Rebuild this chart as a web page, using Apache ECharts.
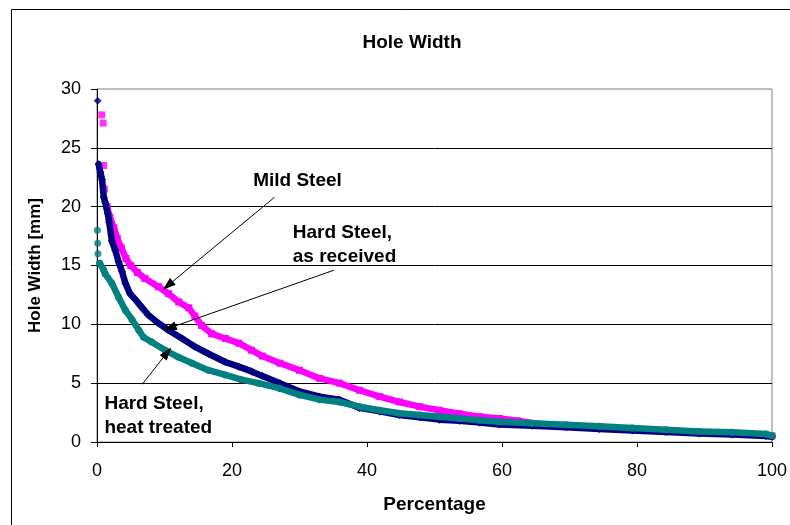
<!DOCTYPE html>
<html><head><meta charset="utf-8">
<script src="https://cdn.jsdelivr.net/npm/echarts@6/dist/echarts.min.js"></script>
<style>html,body{margin:0;padding:0;background:#fff}#c{width:790px;height:525px}</style>
</head><body><div id="c"></div>
<script>
// ---- data ----
const xTicks = [0, 20, 40, 60, 80, 100];
const yTicks = [0, 5, 10, 15, 20, 25, 30];

const mildOutX = [0.7, 0.9, 1.0, 1.1];
const mildOutY = [27.8, 27.1, 23.5, 21.5];
const mildX = [1.5, 1.9, 2.5, 3.0, 3.6, 4.3, 5.0, 6.0, 7.1, 9.1, 10.6, 12.1, 13.6, 14.5, 15.5, 17, 19, 21, 22.9, 24.5, 27.1, 30, 33, 35.9, 38.9, 41.9, 44.8, 47.8, 50.7, 53.7, 56.7, 59.6, 62.3, 66, 70, 75, 80, 85, 90, 95, 100];
const mildY = [20.0, 19.1, 18.2, 17.3, 16.5, 15.6, 15.0, 14.4, 13.9, 13.2, 12.6, 11.9, 11.4, 10.7, 9.9, 9.2, 8.8, 8.4, 7.8, 7.3, 6.7, 6.1, 5.4, 5.0, 4.4, 3.85, 3.4, 3.0, 2.7, 2.4, 2.15, 2.0, 1.8, 1.5, 1.38, 1.22, 1.08, 0.95, 0.82, 0.72, 0.52];

const hardOutX = [0.1];
const hardOutY = [29.0];
const hardX = [0.25, 0.5, 0.75, 1.0, 1.2, 1.6, 1.8, 2.2, 2.7, 3.2, 3.7, 4.2, 4.9, 5.7, 6.7, 7.6, 9.1, 10.6, 12.6, 14.5, 16.5, 19, 21, 22.9, 24.5, 27.1, 30, 33, 35.9, 38.9, 41.9, 44.8, 47.8, 50.7, 53.7, 56.7, 59.6, 64.5, 69.5, 74.4, 79.3, 84.3, 89.2, 94.1, 99.1, 100];
const hardY = [23.6, 22.9, 22.3, 20.8, 20.4, 19.4, 18.7, 17.1, 16.3, 15.3, 14.5, 13.5, 12.6, 12.1, 11.4, 10.8, 10.1, 9.5, 8.8, 8.1, 7.5, 6.8, 6.4, 6.0, 5.6, 5.0, 4.3, 3.85, 3.6, 2.9, 2.6, 2.3, 2.1, 1.9, 1.8, 1.65, 1.48, 1.38, 1.25, 1.1, 0.97, 0.84, 0.72, 0.64, 0.5, 0.45];

const heatOutX = [0.05, 0.1, 0.15];
const heatOutY = [18.0, 16.9, 16.0];
const heatX = [0.4, 1.0, 1.2, 2.2, 3.2, 4.2, 5.2, 6.2, 6.9, 8.1, 10.1, 12.1, 14.1, 16.5, 19, 21.4, 23.9, 27.1, 30, 33, 35.9, 38.9, 41.9, 44.8, 47.8, 50.7, 53.7, 56.7, 59.6, 64.5, 69.5, 74.4, 79.3, 84.3, 89.2, 94.1, 99.1, 100];
const heatY = [15.2, 14.6, 14.3, 13.5, 12.3, 11.2, 10.4, 9.5, 8.9, 8.5, 7.8, 7.2, 6.7, 6.1, 5.7, 5.3, 5.0, 4.55, 4.0, 3.6, 3.4, 3.0, 2.7, 2.45, 2.3, 2.15, 2.0, 1.85, 1.72, 1.6, 1.47, 1.33, 1.18, 1.04, 0.9, 0.82, 0.68, 0.54];

// annotation anchors in data coordinates
const labelMild = { text: 'Mild Steel', x: 29.7, y: 22.2 };
const labelHard = { text: 'Hard Steel,\nas received', x: 29.0, y: 16.8 };
const labelHeat = { text: 'Hard Steel,\nheat treated', x: 1.1, y: 2.2 };
const arrows = [
  [[26.3, 20.8], [10.5, 13.3]],
  [[35.1, 14.6], [10.8, 9.7]],
  [[6.7, 4.9], [10.4, 7.6]]
];

const zip = (xs, ys) => xs.map((x, i) => [x, ys[i]]);
const FONT = "'Liberation Sans', Arial, sans-serif";
const PINK = '#FF00FF', NAVY = '#000080', TEAL = '#008080';

const chart = echarts.init(document.getElementById('c'), null, { renderer: 'canvas' });

function bodySeries(name, data, color, symbol, size, z) {
  return {
    name, type: 'line', data, showSymbol: true, symbol, symbolSize: size,
    itemStyle: { color }, lineStyle: { color, width: 6.5, cap: 'round', join: 'round' },
    animation: false, silent: true, z
  };
}
function outSeries(name, data, color, symbol, size, z) {
  return {
    name, type: 'scatter', data, symbol, symbolSize: size,
    itemStyle: { color }, animation: false, silent: true, z
  };
}

chart.setOption({
  animation: false,
  backgroundColor: '#fff',
  title: {
    text: 'Hole Width', left: 407, top: 28, textAlign: 'center',
    textStyle: { fontFamily: FONT, fontSize: 19, fontWeight: 'bold', color: '#000' }
  },
  grid: { left: 97, right: 17, top: 89, bottom: 83, show: true, borderColor: '#808080', borderWidth: 1 },
  xAxis: {
    type: 'value', min: xTicks[0], max: xTicks[xTicks.length - 1], interval: xTicks[1] - xTicks[0],
    name: 'Percentage', nameLocation: 'middle', nameGap: 53,
    nameTextStyle: { fontFamily: FONT, fontSize: 19, fontWeight: 'bold', color: '#000' },
    axisLine: { show: true, lineStyle: { color: '#000', width: 1 } },
    axisTick: { show: true, inside: false, length: 5, lineStyle: { color: '#000' } },
    axisLabel: { fontFamily: FONT, fontSize: 18, color: '#000', margin: 20 },
    splitLine: { show: false }
  },
  yAxis: {
    type: 'value', min: yTicks[0], max: yTicks[yTicks.length - 1], interval: yTicks[1] - yTicks[0],
    name: 'Hole Width [mm]', nameLocation: 'middle', nameGap: 53, nameRotate: 90,
    nameTextStyle: { fontFamily: FONT, fontSize: 17, fontWeight: 'bold', color: '#000' },
    axisLine: { show: true, lineStyle: { color: '#000', width: 1 } },
    axisTick: { show: true, inside: false, length: 6, lineStyle: { color: '#000' } },
    axisLabel: { fontFamily: FONT, fontSize: 18, color: '#000', margin: 16 },
    splitLine: { show: true, showMaxLine: false, showMinLine: false, lineStyle: { color: '#000', width: 1 } }
  },
  series: [
    outSeries('Mild Steel', zip(mildOutX, mildOutY), PINK, 'rect', 7, 2),
    bodySeries('Mild Steel', zip(mildX, mildY), PINK, 'rect', 7, 2),
    outSeries('Hard Steel, as received', zip(hardOutX, hardOutY), NAVY, 'diamond', 8, 3),
    bodySeries('Hard Steel, as received', zip(hardX, hardY), NAVY, 'diamond', 8, 3),
    outSeries('Hard Steel, heat treated', zip(heatOutX, heatOutY), TEAL, 'circle', 7, 4),
    Object.assign(bodySeries('Hard Steel, heat treated', zip(heatX, heatY), TEAL, 'circle', 7, 4), {
      markLine: {
        silent: true, animation: false, z: 6,
        symbol: ['none', 'triangle'], symbolSize: [9, 13],
        lineStyle: { color: '#000', width: 1, type: 'solid' },
        label: { show: false },
        data: arrows.map(a => [{ coord: a[0] }, { coord: a[1] }])
      }
    })
  ]
});

function placeLabels() {
  const mk = (lab, align) => {
    const p = chart.convertToPixel({ gridIndex: 0 }, [lab.x, lab.y]);
    return {
      type: 'text', x: p[0], y: p[1], z: 10,
      style: {
        text: lab.text, fill: '#000', font: 'bold 19px ' + FONT,
        textAlign: align, textVerticalAlign: 'middle', lineHeight: 24
      }
    };
  };
  chart.setOption({
    graphic: [
      { type: 'rect', shape: { x: 11.5, y: 9.5, width: 900, height: 700 },
        style: { fill: 'none', stroke: '#000', lineWidth: 1 }, z: 20, silent: true },
      mk(labelMild, 'center'),
      mk(labelHard, 'left'),
      mk(labelHeat, 'left')
    ]
  });
}
placeLabels();
</script>
</body></html>
